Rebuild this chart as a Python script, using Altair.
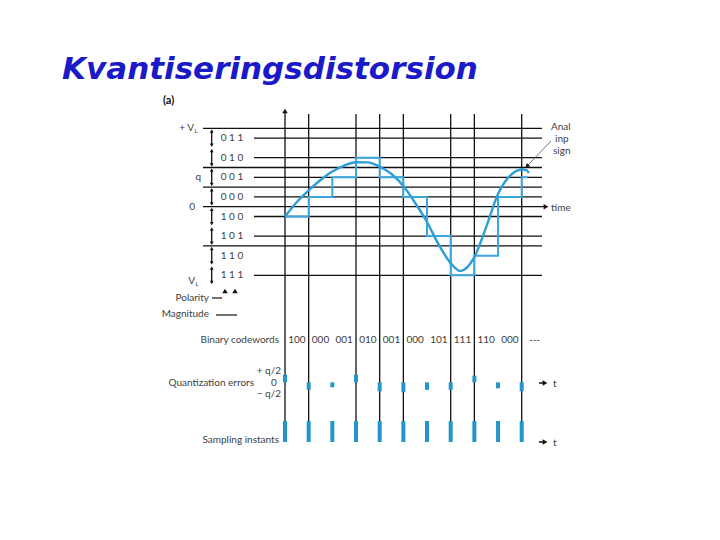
import altair as alt
import pandas as pd

# ---------------- data ----------------
sample_k = list(range(11))
codewords = ["100", "000", "001", "010", "001", "000", "101", "111", "110", "000"]
quant_levels = [-0.5, 0.5, 1.5, 2.5, 1.5, 0.5, -1.5, -3.5, -2.5, 0.5, 1.5]   # in units of q
step_end_k = 10.25
curve_k = [0, 0.5, 1, 1.5, 2, 2.5, 3, 3.5, 4, 4.5, 5, 5.5, 6, 6.5, 7, 7.4, 8, 8.5, 9, 9.5, 10, 10.2, 10.3]
curve_v = [-0.51, 0.24, 0.83, 1.36, 1.80, 2.10, 2.27, 2.26, 2.04, 1.67, 1.06, 0.19, -0.78, -1.95,
           -2.88, -3.28, -2.57, -1.04, 0.65, 1.57, 1.90, 1.87, 1.72]
quant_err = [0.67, -0.66, -0.43, 0.67, -0.78, -0.87, -0.66, -0.66, 0.58, -0.52, -0.78]  # in units of q/2
level_codes = ["0 1 1", "0 1 0", "0 0 1", "0 0 0", "1 0 0", "1 0 1", "1 1 0", "1 1 1"]
level_values = [3.5, 2.5, 1.5, 0.5, -0.5, -1.5, -2.5, -3.5]
long_lines = [4, 2, 1, 0, -2]
code_lines = [3.5, 2.5, 1.5, 0.5, -0.5, -1.5, -3.5]
grid_k = [0, 1, 3, 4, 5, 7, 8, 10]

# ---------------- layout helpers ----------------
W, H = 704, 524
PX0, DX, PY0, DY = 285.0, 23.67, 206.7, 19.6


def X(px):
    return (px - PX0) / DX


def Y(py):
    return (PY0 - py) / DY


xs = alt.Scale(domain=[X(8), X(712)], nice=False, zero=False)
ys = alt.Scale(domain=[Y(532), Y(8)], nice=False, zero=False)

BLACK = "#111111"
TXT = "#404040"
CURVE = "#2b9fd6"
STEP = "#3aa8de"
BAR = "#2496cc"
FONT = "Lato"


def xe(f="x"):
    return alt.X(f + ":Q", scale=xs, axis=None)


def ye(f="y"):
    return alt.Y(f + ":Q", scale=ys, axis=None)


layers = []

# horizontal lines
hl = pd.DataFrame({"y": long_lines, "x": X(203), "x2": [X(546) if v == 0 else X(542) for v in long_lines]})
layers.append(alt.Chart(hl).mark_rule(color=BLACK, strokeWidth=1.3).encode(x=xe(), x2="x2:Q", y=ye()))
hs = pd.DataFrame({"y": code_lines, "x": X(254), "x2": X(542)})
layers.append(alt.Chart(hs).mark_rule(color=BLACK, strokeWidth=1.3).encode(x=xe(), x2="x2:Q", y=ye()))

# vertical lines
vl = pd.DataFrame({"x": grid_k, "y": [Y(112) if k == 0 else Y(114) for k in grid_k], "y2": Y(442)})
layers.append(alt.Chart(vl).mark_rule(color=BLACK, strokeWidth=1.3).encode(x=xe(), y=ye(), y2="y2:Q"))

# arrowheads (axis top, time, t-arrows)
arr = pd.DataFrame({
    "x": [0, X(546), X(545), X(545)],
    "y": [Y(111), 0, Y(383), Y(442)],
    "shape": ["triangle-up", "triangle-right", "triangle-right", "triangle-right"],
})
layers.append(alt.Chart(arr).mark_point(filled=True, color=BLACK, size=30, opacity=1).encode(
    x=xe(), y=ye(), shape=alt.Shape("shape:N", scale=None)))
tl = pd.DataFrame({"x": [X(539), X(539)], "x2": [X(545), X(545)], "y": [Y(383), Y(442)]})
layers.append(alt.Chart(tl).mark_rule(color=BLACK, strokeWidth=1.5).encode(x=xe(), x2="x2:Q", y=ye()))

# staircase (quantized signal)
st = pd.DataFrame({"x": sample_k + [step_end_k], "y": quant_levels + [quant_levels[-1]]})
layers.append(alt.Chart(st).mark_line(color=STEP, strokeWidth=2, interpolate="step-after").encode(x=xe(), y=ye()))

# analog curve
cv = pd.DataFrame({"x": curve_k, "y": curve_v})
layers.append(alt.Chart(cv).mark_line(color=CURVE, strokeWidth=2.4, interpolate="monotone").encode(x=xe(), y=ye()))

# quantization error bars
ZERO_PY, HALFQ_PX = 382.3, 11.5
qe = pd.DataFrame({"x": sample_k, "y": Y(ZERO_PY), "y2": [Y(ZERO_PY - e * HALFQ_PX) for e in quant_err]})
layers.append(alt.Chart(qe).mark_rule(color=BAR, strokeWidth=4).encode(x=xe(), y=ye(), y2="y2:Q"))

# sampling instants
si = pd.DataFrame({"x": sample_k, "y": Y(421), "y2": Y(442)})
layers.append(alt.Chart(si).mark_rule(color=BAR, strokeWidth=4).encode(x=xe(), y=ye(), y2="y2:Q"))

# double arrows between levels
da = pd.DataFrame({"x": X(211.7), "y": [v + 0.4 for v in level_values], "y2": [v - 0.4 for v in level_values]})
layers.append(alt.Chart(da).mark_rule(color=BLACK, strokeWidth=1.3).encode(x=xe(), y=ye(), y2="y2:Q"))
dh = pd.DataFrame({
    "x": X(211.7),
    "y": [v + 0.36 for v in level_values] + [v - 0.36 for v in level_values],
    "shape": ["triangle-up"] * 8 + ["triangle-down"] * 8,
})
layers.append(alt.Chart(dh).mark_point(filled=True, color=BLACK, size=14, opacity=1).encode(
    x=xe(), y=ye(), shape=alt.Shape("shape:N", scale=None)))

# polarity / magnitude legend
pm = pd.DataFrame({"x": [X(212), X(216)], "x2": [X(222), X(237)], "y": [Y(298), Y(315)]})
layers.append(alt.Chart(pm).mark_rule(color=BLACK, strokeWidth=1.2).encode(x=xe(), x2="x2:Q", y=ye()))
pa = pd.DataFrame({"x": [X(225), X(235)], "y": [Y(291), Y(291)]})
layers.append(alt.Chart(pa).mark_point(filled=True, color=BLACK, size=30, shape="triangle-up", opacity=1).encode(x=xe(), y=ye()))

# "Analog input signal" pointer
ap = pd.DataFrame({"x": [X(551)], "x2": [X(528)], "y": [Y(141)], "y2": [Y(165)]})
layers.append(alt.Chart(ap).mark_rule(color="#555555", strokeWidth=0.8).encode(x=xe(), x2="x2:Q", y=ye(), y2="y2:Q"))
ah = pd.DataFrame({"x": [X(527)], "y": [Y(166)]})
layers.append(alt.Chart(ah).mark_point(filled=True, color=BLACK, size=22, shape="triangle-up", angle=225, opacity=1).encode(x=xe(), y=ye()))


def texts(rows, **kw):
    df = pd.DataFrame(rows, columns=["x", "y", "t"])
    props = dict(font=FONT, fontSize=10, color=TXT)
    props.update(kw)
    return alt.Chart(df).mark_text(**props).encode(x=xe(), y=ye(), text="t:N")


# codewords
layers.append(texts([(k + 0.5, Y(340), c) for k, c in zip(sample_k, codewords)] + [(10.55, Y(340), "---")],
                    align="center", baseline="middle"))
# level code labels
layers.append(texts([(X(232), v, c) for v, c in zip(level_values, level_codes)], align="center", baseline="middle"))

# left annotations (right aligned)
layers.append(texts([
    (X(279), Y(340), "Binary codewords"),
    (X(254), Y(383), "Quantization errors"),
    (X(279), Y(440), "Sampling instants"),
    (X(281), Y(371), "+ q/2"),
    (X(281), Y(394), "− q/2"),
    (X(209), Y(298), "Polarity"),
    (X(209), Y(314), "Magnitude"),
    (X(194), Y(128), "+ V"),
    (X(201), Y(177), "q"),
    (X(195), Y(207), "0"),
    (X(195), Y(281), "V"),
], align="right", baseline="middle"))
layers.append(texts([(X(274), Y(382.5), "0")], align="center", baseline="middle"))
layers.append(texts([(X(194.5), Y(131), "L"), (X(195.5), Y(284), "L")], align="left", baseline="middle", fontSize=6))

# right annotations
layers.append(texts([
    (X(551), Y(127), "Anal"),
    (X(555), Y(139), "inp"),
    (X(553), Y(151), "sign"),
    (X(551), Y(208), "time"),
    (X(553), Y(384), "t"),
    (X(553), Y(443), "t"),
], align="left", baseline="middle"))

layers.append(texts([(X(163), Y(101), "(a)")], align="left", baseline="middle", fontWeight="bold",
                    fontSize=11, color="#111111"))

# title
layers.append(texts([(X(62), Y(78.5), "Kvantiseringsdistorsion")], align="left", baseline="alphabetic",
                    font="DejaVu Sans", fontSize=31, fontStyle="italic", fontWeight="bold", color="#1a1ac8"))

chart = alt.layer(*layers).properties(
    width=W, height=H, padding=0, autosize=alt.AutoSizeParams(type="none"), background="white"
).configure_view(stroke=None)

chart.save("out.html", embed_options={"renderer": "svg", "actions": False})
